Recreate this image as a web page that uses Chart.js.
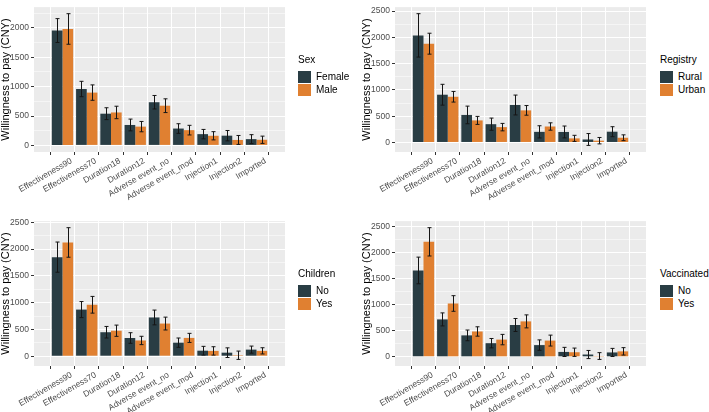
<!DOCTYPE html>
<html>
<head>
<meta charset="utf-8">
<script src="https://cdn.jsdelivr.net/npm/chart.js@4.4.1/dist/chart.umd.min.js"></script>
<style>
  body { margin: 0; width: 709px; height: 412px; background: #fff; position: relative; overflow: hidden;
         font-family: "Liberation Sans", Arial, sans-serif; }
  canvas { position: absolute; }
  .legend { position: absolute; color: #000; white-space: nowrap; }
  .legend .title { font-size: 10px; line-height: 12px; margin-bottom: 4px; }
  .legend .row { display: flex; align-items: center; height: 13px; font-size: 10px; }
  .legend .key { width: 13px; height: 12px; margin-right: 5px; }
</style>
</head>
<body>
<canvas id="c1" width="300" height="206" style="left:-1px;top:0"></canvas>
<canvas id="c2" width="300" height="206" style="left:360px;top:0"></canvas>
<canvas id="c3" width="300" height="198" style="left:-1px;top:214px"></canvas>
<canvas id="c4" width="300" height="198" style="left:360px;top:214px"></canvas>
<div class="legend" id="l1" style="left:298px;top:54px"></div>
<div class="legend" id="l2" style="left:660px;top:54px"></div>
<div class="legend" id="l3" style="left:298px;top:268px"></div>
<div class="legend" id="l4" style="left:660px;top:268px"></div>

<script>
// ==========================
// data
// ==========================
const categories = ["Effectiveness90", "Effectiveness70", "Duration18", "Duration12",
    "Adverse event_no", "Adverse event_mod", "Injection1", "Injection2", "Imported"];

// Sex
const sexLevels = ["Female", "Male"];
const female    = [1955, 960, 540, 348, 735, 287, 192, 166, 107];
const femaleErr = [203, 131, 101, 100, 115, 82, 80, 88, 76];
const male      = [1982, 899, 561, 320, 676, 260, 164, 93, 96];
const maleErr   = [260, 131, 106, 88, 117, 82, 70, 76, 62];

// Registry
const registryLevels = ["Rural", "Urban"];
const rural     = [2038, 909, 524, 348, 713, 202, 200, 57, 205];
const ruralErr  = [413, 198, 168, 116, 189, 116, 113, 113, 95];
const urban     = [1880, 870, 420, 292, 611, 304, 78, 34, 90];
const urbanErr  = [199, 101, 76, 71, 92, 70, 58, 61, 55];

// Children
const childrenLevels = ["No", "Yes"];
const childNo     = [1851, 871, 448, 340, 724, 253, 103, 66, 123];
const childNoErr  = [282, 150, 108, 99, 138, 87, 81, 90, 66];
const childYes    = [2125, 961, 476, 294, 610, 342, 99, 18, 100];
const childYesErr = [276, 156, 105, 78, 120, 85, 78, 78, 58];

// Vaccinated
const vaccLevels = ["No", "Yes"];
const vaccNo     = [1660, 719, 412, 262, 612, 225, 94, 44, 84];
const vaccNoErr  = [256, 125, 103, 90, 125, 100, 88, 78, 78];
const vaccYes    = [2210, 1025, 487, 331, 681, 312, 88, 15, 105];
const vaccYesErr = [272, 150, 90, 100, 125, 105, 80, 65, 71];

const colors = ["#293D44", "#E08031"];

// ==========================
// plugins
// ==========================
const panelBg = {
    id: "panelBg",
    beforeDraw(chart) {
        const { ctx, chartArea: a } = chart;
        ctx.save();
        ctx.fillStyle = "#EBEBEB";
        ctx.fillRect(a.left, a.top, a.right - a.left, a.bottom - a.top);
        ctx.restore();
    }
};

const errorBars = {
    id: "errorBars",
    afterDatasetsDraw(chart) {
        const ctx = chart.ctx;
        const y = chart.scales.y;
        ctx.save();
        ctx.strokeStyle = "#151515";
        ctx.lineWidth = 1;
        chart.data.datasets.forEach((ds, di) => {
            chart.getDatasetMeta(di).data.forEach((bar, i) => {
                const v = ds.data[i].y, e = ds.errors[i];
                const top = y.getPixelForValue(v + e);
                const bot = y.getPixelForValue(v - e);
                const x = Math.round(bar.x) + 0.5;
                ctx.beginPath();
                ctx.moveTo(x, top); ctx.lineTo(x, bot);
                ctx.moveTo(x - 2, top); ctx.lineTo(x + 2, top);
                ctx.moveTo(x - 2, bot); ctx.lineTo(x + 2, bot);
                ctx.stroke();
            });
        });
        ctx.restore();
    }
};

// ==========================
// helpers
// ==========================
function yLimits(a, ae, b, be) {
    const lows = a.map((v, i) => v - ae[i]).concat(b.map((v, i) => v - be[i]), [0]);
    const highs = a.map((v, i) => v + ae[i]).concat(b.map((v, i) => v + be[i]));
    const lo = Math.min(...lows), hi = Math.max(...highs);
    const pad = (hi - lo) * 0.05;
    return [lo - pad, hi + pad];
}

const isMajor = (ctx) => ctx.tick && Math.round(ctx.tick.value) % 500 === 0;

function drawPanel(id, levels, a, ae, b, be, xHeight) {
    const [lo, hi] = yLimits(a, ae, b, be);
    new Chart(document.getElementById(id), {
        type: "bar",
        data: {
            datasets: [
                { label: levels[0], data: a.map((v, i) => ({ x: i, y: v })), errors: ae, backgroundColor: colors[0] },
                { label: levels[1], data: b.map((v, i) => ({ x: i, y: v })), errors: be, backgroundColor: colors[1] }
            ]
        },
        options: {
            responsive: false,
            animation: false,
            categoryPercentage: 0.88,
            barPercentage: 1.0,
            borderWidth: 0,
            layout: { padding: { left: 0, top: 2, right: 14, bottom: 0 } },
            plugins: { legend: { display: false }, tooltip: { enabled: false } },
            scales: {
                x: {
                    type: "linear",
                    min: -0.6,
                    max: categories.length - 0.4,
                    afterBuildTicks: (s) => { s.ticks = categories.map((_, i) => ({ value: i })); },
                    afterFit: (s) => { s.height = xHeight; },
                    border: { display: false },
                    grid: { color: "#FFFFFF", lineWidth: 1, tickColor: "#333333", tickLength: 3 },
                    ticks: {
                        autoSkip: false, minRotation: 30, maxRotation: 30, padding: 1, labelOffset: 9,
                        color: "#4D4D4D", font: { family: "Liberation Sans", size: 8.5 },
                        callback: (v) => categories[v]
                    }
                },
                y: {
                    min: lo,
                    max: hi,
                    afterBuildTicks: (s) => {
                        const t = [];
                        for (let v = Math.ceil(s.min / 250) * 250; v <= s.max; v += 250) t.push({ value: v });
                        s.ticks = t;
                    },
                    afterFit: (s) => { s.width = 35; },
                    border: { display: false },
                    grid: {
                        color: "#FFFFFF",
                        lineWidth: (c) => isMajor(c) ? 1 : 0.5,
                        tickColor: (c) => isMajor(c) ? "#333333" : "rgba(0,0,0,0)",
                        tickLength: 3
                    },
                    ticks: {
                        padding: 2, color: "#4D4D4D", font: { family: "Liberation Sans", size: 8.5 },
                        callback: (v) => Math.round(v) % 500 === 0 ? String(Math.round(v)) : ""
                    },
                    title: {
                        display: true, text: "Willingness to pay (CNY)", color: "#000",
                        font: { family: "Liberation Sans", size: 11 }, padding: { top: 0, bottom: 0 }
                    }
                }
            }
        },
        plugins: [panelBg, errorBars]
    });
}

function drawLegend(id, title, levels) {
    const el = document.getElementById(id);
    let html = '<div class="title">' + title + "</div>";
    levels.forEach((lv, i) => {
        html += '<div class="row"><span class="key" style="background:' + colors[i] + '"></span>' + lv + "</div>";
    });
    el.innerHTML = html;
}

// ==========================
// render
// ==========================
drawPanel("c1", sexLevels, female, femaleErr, male, maleErr, 54);
drawPanel("c2", registryLevels, rural, ruralErr, urban, urbanErr, 54);
drawPanel("c3", childrenLevels, childNo, childNoErr, childYes, childYesErr, 46);
drawPanel("c4", vaccLevels, vaccNo, vaccNoErr, vaccYes, vaccYesErr, 46);

drawLegend("l1", "Sex", sexLevels);
drawLegend("l2", "Registry", registryLevels);
drawLegend("l3", "Children", childrenLevels);
drawLegend("l4", "Vaccinated", vaccLevels);
</script>
</body>
</html>
